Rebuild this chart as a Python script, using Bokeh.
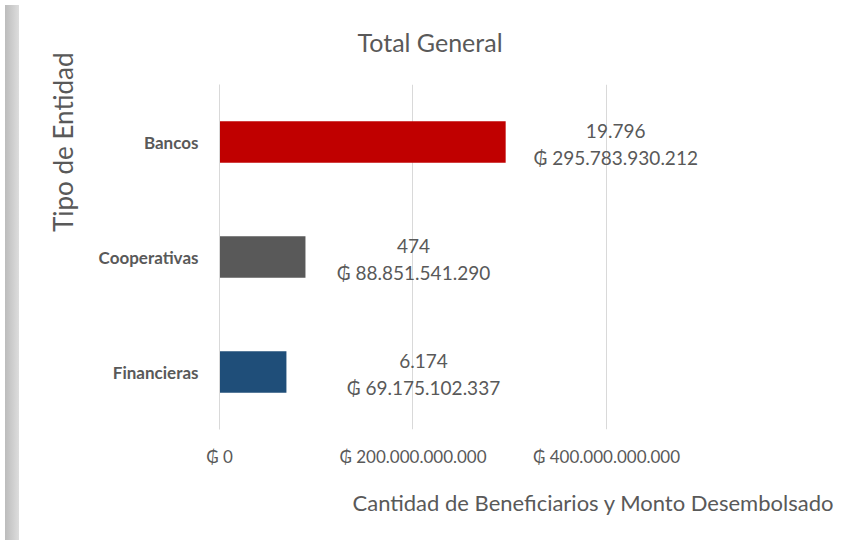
from bokeh.plotting import figure
from bokeh.models import Range1d, FactorRange, FixedTicker, Title, ColumnDataSource, Div
from bokeh.layouts import row
from bokeh.core.properties import value
from bokeh.embed import file_html
from bokeh.resources import INLINE

# ---- data ----
categories = ["Bancos", "Cooperativas", "Financieras"]
beneficiarios = [19796, 474, 6174]
montos = [295783930212, 88851541290, 69175102337]
bar_colors = ["#C00000", "#595959", "#1F4E79"]
tick_values = [0, 200000000000, 400000000000]
tick_labels = ["₲ 0", "₲ 200.000.000.000", "₲ 400.000.000.000"]
title_text = "Total General"
x_title = "Cantidad de Beneficiarios y Monto Desembolsado"
y_title = "Tipo de Entidad"

# ---- style / layout ----
label_shift = [110, 108, 137]  # px right of bar end (label centre)
TXT = "#595959"
GRID = "#D9D9D9"
H = 536


def fmt(n):
    return f"{n:,}".replace(",", ".")


labels = [f"{fmt(b)}\n₲ {fmt(m)}" for b, m in zip(beneficiarios, montos)]

source = ColumnDataSource(dict(cat=categories, monto=montos, color=bar_colors,
                               label=labels, shift=label_shift))

p = figure(width=811, height=H,
           y_range=FactorRange(*reversed(categories)),
           x_range=Range1d(0, 636.7e9),
           output_backend="svg", toolbar_location=None,
           min_border_left=195, min_border_right=0,
           min_border_top=83, min_border_bottom=H - 83 - 346)
p.title = Title(text=title_text, align="left", offset=138, standoff=52,
                vertical_align="top",
                text_font="Lato", text_font_size="25px", text_font_style="normal",
                text_color=TXT)
p.outline_line_color = None
p.background_fill_color = "white"
p.border_fill_color = "white"

p.hbar(y="cat", left=0, right="monto", height=0.36, fill_color="color",
       line_color=None, source=source)

p.text(x="monto", y="cat", text="label", x_offset="shift", y_offset=2, source=source,
       text_align="center", text_baseline="middle", text_font=value("Lato"),
       text_font_size="19px", text_color=TXT, text_line_height=1.15)

p.ygrid.grid_line_color = None
p.xgrid.ticker = FixedTicker(ticks=tick_values)
p.xgrid.grid_line_color = GRID
p.xgrid.grid_line_width = 1

xa = p.xaxis[0]
xa.ticker = FixedTicker(ticks=tick_values)
xa.major_label_overrides = dict(zip(tick_values, tick_labels))
xa.axis_line_color = None
xa.major_tick_line_color = None
xa.minor_tick_line_color = None
xa.major_tick_out = 0
xa.minor_tick_out = 0
xa.axis_label_standoff = 0
xa.major_label_text_font = "Lato"
xa.major_label_text_font_size = "17px"
xa.major_label_text_color = TXT
xa.major_label_standoff = 16

ya = p.yaxis[0]
ya.axis_line_color = GRID
ya.major_tick_line_color = None
ya.minor_tick_line_color = None
ya.major_tick_out = 0
ya.minor_tick_out = 0
ya.major_label_text_font = "Lato"
ya.major_label_text_font_style = "bold"
ya.major_label_text_font_size = "17px"
ya.major_label_text_color = TXT
ya.major_label_standoff = 21

p.add_layout(Title(text=x_title, align="left", offset=133, standoff=34,
                   text_font="Lato", text_font_size="22px", text_font_style="normal",
                   text_color=TXT), "below")
p.add_layout(Title(text=y_title, align="right", offset=-32, standoff=34,
                   text_font="Lato", text_font_size="26px", text_font_style="normal",
                   text_color=TXT), "left")

shadow = Div(width=14, height=H,
             styles={"background": "linear-gradient(to right, #bcbcbc, #dddddd)"})

layout = row(shadow, p)
open("out.html", "w").write(file_html(layout, INLINE))
